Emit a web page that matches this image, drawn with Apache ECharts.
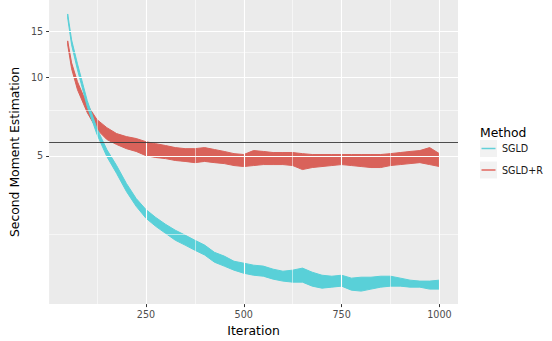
<!DOCTYPE html>
<html><head><meta charset="utf-8">
<script src="https://cdn.jsdelivr.net/npm/echarts@6/dist/echarts.min.js"></script>
<style>html,body{margin:0;padding:0;background:#fff}#c{width:552px;height:341px}</style>
</head><body><div id="c"></div>
<script>
const iterations = [50,60,75,100,125,150,175,200,225,250,
  275,300,325,350,375,400,425,450,475,500,
  525,550,575,600,625,650,675,700,725,750,
  775,800,825,850,875,900,925,950,975,1000];
const sgldUpper = [17.55,13.95,11.29,8.15,6.36,5.29,4.59,3.92,3.43,3.11,
  2.90,2.73,2.59,2.48,2.37,2.27,2.13,2.06,1.968,1.935,
  1.901,1.885,1.835,1.802,1.819,1.852,1.786,1.739,1.724,1.739,
  1.695,1.709,1.709,1.724,1.724,1.695,1.665,1.651,1.651,1.665];
const sgldLower = [16.94,13.35,10.71,7.73,6.04,4.97,4.28,3.65,3.20,2.88,
  2.68,2.52,2.37,2.27,2.17,2.08,1.952,1.885,1.819,1.770,
  1.739,1.724,1.680,1.651,1.636,1.636,1.579,1.551,1.565,1.579,
  1.524,1.511,1.538,1.565,1.579,1.579,1.565,1.565,1.538,1.538];
const sgldrUpper = [13.83,11.39,9.63,7.86,6.89,6.42,6.09,5.93,5.83,5.67,
  5.57,5.48,5.38,5.33,5.33,5.38,5.29,5.20,5.10,5.06,
  5.24,5.20,5.15,5.15,5.15,5.10,5.06,5.06,5.06,5.06,
  5.06,5.06,5.06,5.06,5.10,5.15,5.20,5.24,5.38,5.10];
const sgldrLower = [13.35,10.81,8.98,7.33,6.31,5.78,5.53,5.33,5.20,5.01,
  4.93,4.88,4.80,4.76,4.71,4.76,4.71,4.67,4.59,4.55,
  4.59,4.63,4.63,4.63,4.59,4.43,4.51,4.55,4.59,4.63,
  4.59,4.55,4.51,4.51,4.59,4.63,4.67,4.71,4.63,4.55];
const xTicks = [250,500,750,1000];
const xMinorGrid = [125,375,625,875];
const yTicks = [5,10,15];
const yMinorGrid = [2.5,7.5,12.5];
const referenceLine = 5.62;
const methods = ['SGLD','SGLD+R'];

const FONT = 'DejaVu Sans';
const COL_SGLD = '#59D0D8';
const COL_SGLDR = '#D9625A';

function band(name, lower, upper, color, z) {
  return {
    name: name, type: 'custom', z: z, silent: true, clip: true,
    data: iterations.map((it, i) => [it, lower[i], upper[i]]),
    encode: {x: 0, y: [1, 2]},
    renderItem: function (params, api) {
      if (params.dataIndex !== 0) return null;
      const pts = [];
      for (let i = 0; i < iterations.length; i++) pts.push(api.coord([iterations[i], upper[i]]));
      for (let i = iterations.length - 1; i >= 0; i--) pts.push(api.coord([iterations[i], lower[i]]));
      return {type: 'polygon', shape: {points: pts}, style: {fill: color, stroke: color, lineWidth: 1}};
    }
  };
}

const gridLines = [];
xTicks.forEach(v => gridLines.push({xAxis: v, lineStyle: {width: 1.1, color: '#fff'}}));
xMinorGrid.forEach(v => gridLines.push({xAxis: v, lineStyle: {width: 0.55, color: '#fff'}}));
yTicks.forEach(v => gridLines.push({yAxis: v, lineStyle: {width: 1.1, color: '#fff'}}));
yMinorGrid.forEach(v => gridLines.push({yAxis: v, lineStyle: {width: 0.55, color: '#fff'}}));

const chart = echarts.init(document.getElementById('c'), null, {renderer: 'svg', width: 552, height: 341});
chart.setOption({
  animation: false,
  backgroundColor: '#fff',
  textStyle: {fontFamily: FONT},
  grid: {left: 49, top: 0, width: 409, height: 305, show: true, backgroundColor: '#EBEBEB', borderWidth: 0, containLabel: false},
  xAxis: {
    type: 'value', min: 2.5, max: 1047.5,
    name: 'Iteration', nameLocation: 'middle', nameGap: 19,
    nameTextStyle: {fontSize: 12.4, color: '#000', fontFamily: FONT},
    axisLine: {show: false},
    axisTick: {show: true, length: 3, customValues: xTicks, lineStyle: {color: '#333', width: 1}},
    axisLabel: {customValues: xTicks, margin: 5, fontSize: 9.6, color: '#4D4D4D', fontFamily: FONT,
      formatter: v => String(Math.round(v))},
    splitLine: {show: false}
  },
  yAxis: {
    type: 'log', logBase: 10, min: 1.347, max: 19.86,
    name: 'Second Moment Estimation', nameLocation: 'middle', nameGap: 24,
    nameTextStyle: {fontSize: 12.4, color: '#000', fontFamily: FONT},
    axisLine: {show: false},
    axisTick: {show: true, length: 3, customValues: yTicks, lineStyle: {color: '#333', width: 1}},
    axisLabel: {customValues: yTicks, margin: 6, fontSize: 9.6, color: '#4D4D4D', fontFamily: FONT,
      formatter: v => String(Math.round(v))},
    splitLine: {show: false}, minorSplitLine: {show: false}
  },
  series: [
    {type: 'line', z: 1, silent: true, symbol: 'none', data: [[2.5, 5]], lineStyle: {opacity: 0},
      markLine: {silent: true, symbol: ['none', 'none'], label: {show: false}, animation: false,
        emphasis: {disabled: true}, lineStyle: {type: 'solid'}, data: gridLines}},
    band(methods[1], sgldrLower, sgldrUpper, COL_SGLDR, 2),
    band(methods[0], sgldLower, sgldUpper, COL_SGLD, 3),
    {type: 'line', z: 4, silent: true, symbol: 'none', data: [[2.5, referenceLine]], lineStyle: {opacity: 0},
      markLine: {silent: true, symbol: ['none', 'none'], label: {show: false}, animation: false,
        emphasis: {disabled: true}, lineStyle: {type: 'solid', color: '#3A3A3A', width: 0.9},
        data: [{yAxis: referenceLine}]}}
  ],
  graphic: [
    {type: 'text', x: 480, y: 132, style: {text: 'Method', fontSize: 12.4, fontFamily: FONT, fill: '#000', verticalAlign: 'middle'}},
    {type: 'rect', shape: {x: 480, y: 140, width: 17, height: 17}, style: {fill: '#F2F2F2'}},
    {type: 'line', shape: {x1: 481.5, y1: 148.5, x2: 495.5, y2: 148.5}, style: {stroke: '#63D0D8', lineWidth: 1.5}},
    {type: 'text', x: 502, y: 148.5, style: {text: methods[0], fontSize: 9.6, fontFamily: FONT, fill: '#1A1A1A', verticalAlign: 'middle'}},
    {type: 'rect', shape: {x: 480, y: 161.5, width: 17, height: 17}, style: {fill: '#F2F2F2'}},
    {type: 'line', shape: {x1: 481.5, y1: 170, x2: 495.5, y2: 170}, style: {stroke: '#E2675F', lineWidth: 1.5}},
    {type: 'text', x: 502, y: 170, style: {text: methods[1], fontSize: 9.6, fontFamily: FONT, fill: '#1A1A1A', verticalAlign: 'middle'}}
  ]
});
</script></body></html>
